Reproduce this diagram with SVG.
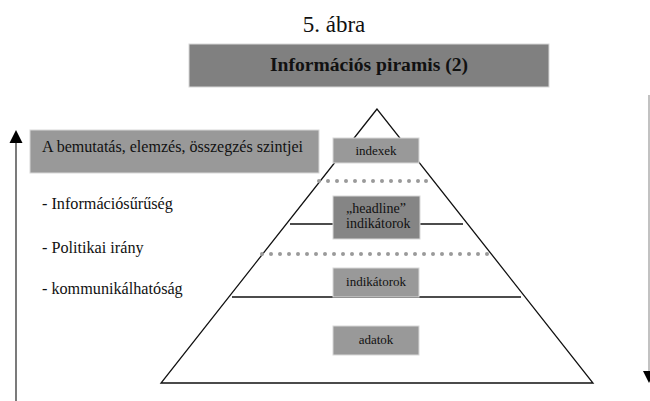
<svg xmlns="http://www.w3.org/2000/svg" width="650" height="401" viewBox="0 0 650 401">
<style>
  .t { font-family: "Liberation Serif", "Times New Roman", serif; fill: #111; }
  .box { stroke: #d8d8d8; stroke-width: 1; }
  .lt { fill: #999999; }
  .dk { fill: #858585; }
  .ln { stroke: #111; stroke-width: 1.3; fill: none; }
  .dot { fill: #9a9a9a; }
</style>
<rect width="650" height="401" fill="#fff"/>

<g id="caption">
  <text class="t" x="334" y="32" font-size="23" text-anchor="middle">5. ábra</text>
</g>

<g id="title">
  <rect class="box" x="189" y="44" width="360" height="43" fill="#808080"/>
  <text class="t" x="270" y="71" font-size="18" font-weight="bold" textLength="198" lengthAdjust="spacingAndGlyphs">Információs piramis (2)</text>
</g>

<g id="levels">
  <rect class="box" x="30" y="130" width="289" height="43" fill="#999999"/>
  <text class="t" x="42" y="152" font-size="16" textLength="261" lengthAdjust="spacingAndGlyphs">A bemutatás, elemzés, összegzés szintjei</text>
</g>

<g id="bullets">
  <text class="t" x="42" y="209" font-size="16.2">- Információsűrűség</text>
  <text class="t" x="42" y="253" font-size="16.2">- Politikai irány</text>
  <text class="t" x="42" y="294" font-size="16.2">- kommunikálhatóság</text>
</g>

<g id="connectors">
  <line x1="16" y1="401" x2="16" y2="132" stroke="#333" stroke-width="1.3"/>
  <path d="M16 130 L9.5 143 L22.5 143 Z" fill="#000"/>
  <line x1="649" y1="95" x2="649" y2="375" stroke="#999" stroke-width="1.2"/>
  <path d="M649 383 L643 371 L655 371 Z" fill="#000"/>
</g>

<g id="pyramid">
  <path class="ln" d="M377 109 L161 383 L593 383 Z"/>
  <line class="ln" x1="290" y1="224" x2="463" y2="224"/>
  <line class="ln" x1="232" y1="297" x2="521" y2="297"/>
  <g id="dots-upper">
    <circle class="dot" cx="319" cy="181" r="2"/>
    <circle class="dot" cx="328" cy="181" r="2"/>
    <circle class="dot" cx="337" cy="181" r="2"/>
    <circle class="dot" cx="346" cy="181" r="2"/>
    <circle class="dot" cx="355" cy="181" r="2"/>
    <circle class="dot" cx="364" cy="181" r="2"/>
    <circle class="dot" cx="373" cy="181" r="2"/>
    <circle class="dot" cx="382" cy="181" r="2"/>
    <circle class="dot" cx="391" cy="181" r="2"/>
    <circle class="dot" cx="400" cy="181" r="2"/>
    <circle class="dot" cx="409" cy="181" r="2"/>
    <circle class="dot" cx="418" cy="181" r="2"/>
    <circle class="dot" cx="426" cy="181" r="2"/>
  </g>
  <g id="dots-lower">
    <circle class="dot" cx="262" cy="254" r="2"/>
    <circle class="dot" cx="271" cy="254" r="2"/>
    <circle class="dot" cx="280" cy="254" r="2"/>
    <circle class="dot" cx="289" cy="254" r="2"/>
    <circle class="dot" cx="298" cy="254" r="2"/>
    <circle class="dot" cx="307" cy="254" r="2"/>
    <circle class="dot" cx="316" cy="254" r="2"/>
    <circle class="dot" cx="325" cy="254" r="2"/>
    <circle class="dot" cx="334" cy="254" r="2"/>
    <circle class="dot" cx="343" cy="254" r="2"/>
    <circle class="dot" cx="352" cy="254" r="2"/>
    <circle class="dot" cx="361" cy="254" r="2"/>
    <circle class="dot" cx="370" cy="254" r="2"/>
    <circle class="dot" cx="379" cy="254" r="2"/>
    <circle class="dot" cx="388" cy="254" r="2"/>
    <circle class="dot" cx="397" cy="254" r="2"/>
    <circle class="dot" cx="406" cy="254" r="2"/>
    <circle class="dot" cx="415" cy="254" r="2"/>
    <circle class="dot" cx="424" cy="254" r="2"/>
    <circle class="dot" cx="433" cy="254" r="2"/>
    <circle class="dot" cx="442" cy="254" r="2"/>
    <circle class="dot" cx="451" cy="254" r="2"/>
    <circle class="dot" cx="460" cy="254" r="2"/>
    <circle class="dot" cx="469" cy="254" r="2"/>
    <circle class="dot" cx="478" cy="254" r="2"/>
    <circle class="dot" cx="487" cy="254" r="2"/>
  </g>
</g>

<g id="indexek">
  <rect class="box lt" x="333" y="138" width="86" height="25"/>
  <text class="t" x="376" y="155" font-size="13" text-anchor="middle">indexek</text>
</g>

<g id="headline">
  <rect class="box dk" x="333" y="196" width="87" height="43"/>
  <text class="t" x="346" y="213" font-size="14">„headline”</text>
  <text class="t" x="346" y="228" font-size="14">indikátorok</text>
</g>

<g id="indikatorok">
  <rect class="box lt" x="333" y="268" width="86" height="29"/>
  <text class="t" x="376" y="286" font-size="13" text-anchor="middle">indikátorok</text>
</g>

<g id="adatok">
  <rect class="box lt" x="333" y="326" width="86" height="29"/>
  <text class="t" x="376" y="344" font-size="13" text-anchor="middle">adatok</text>
</g>
</svg>
